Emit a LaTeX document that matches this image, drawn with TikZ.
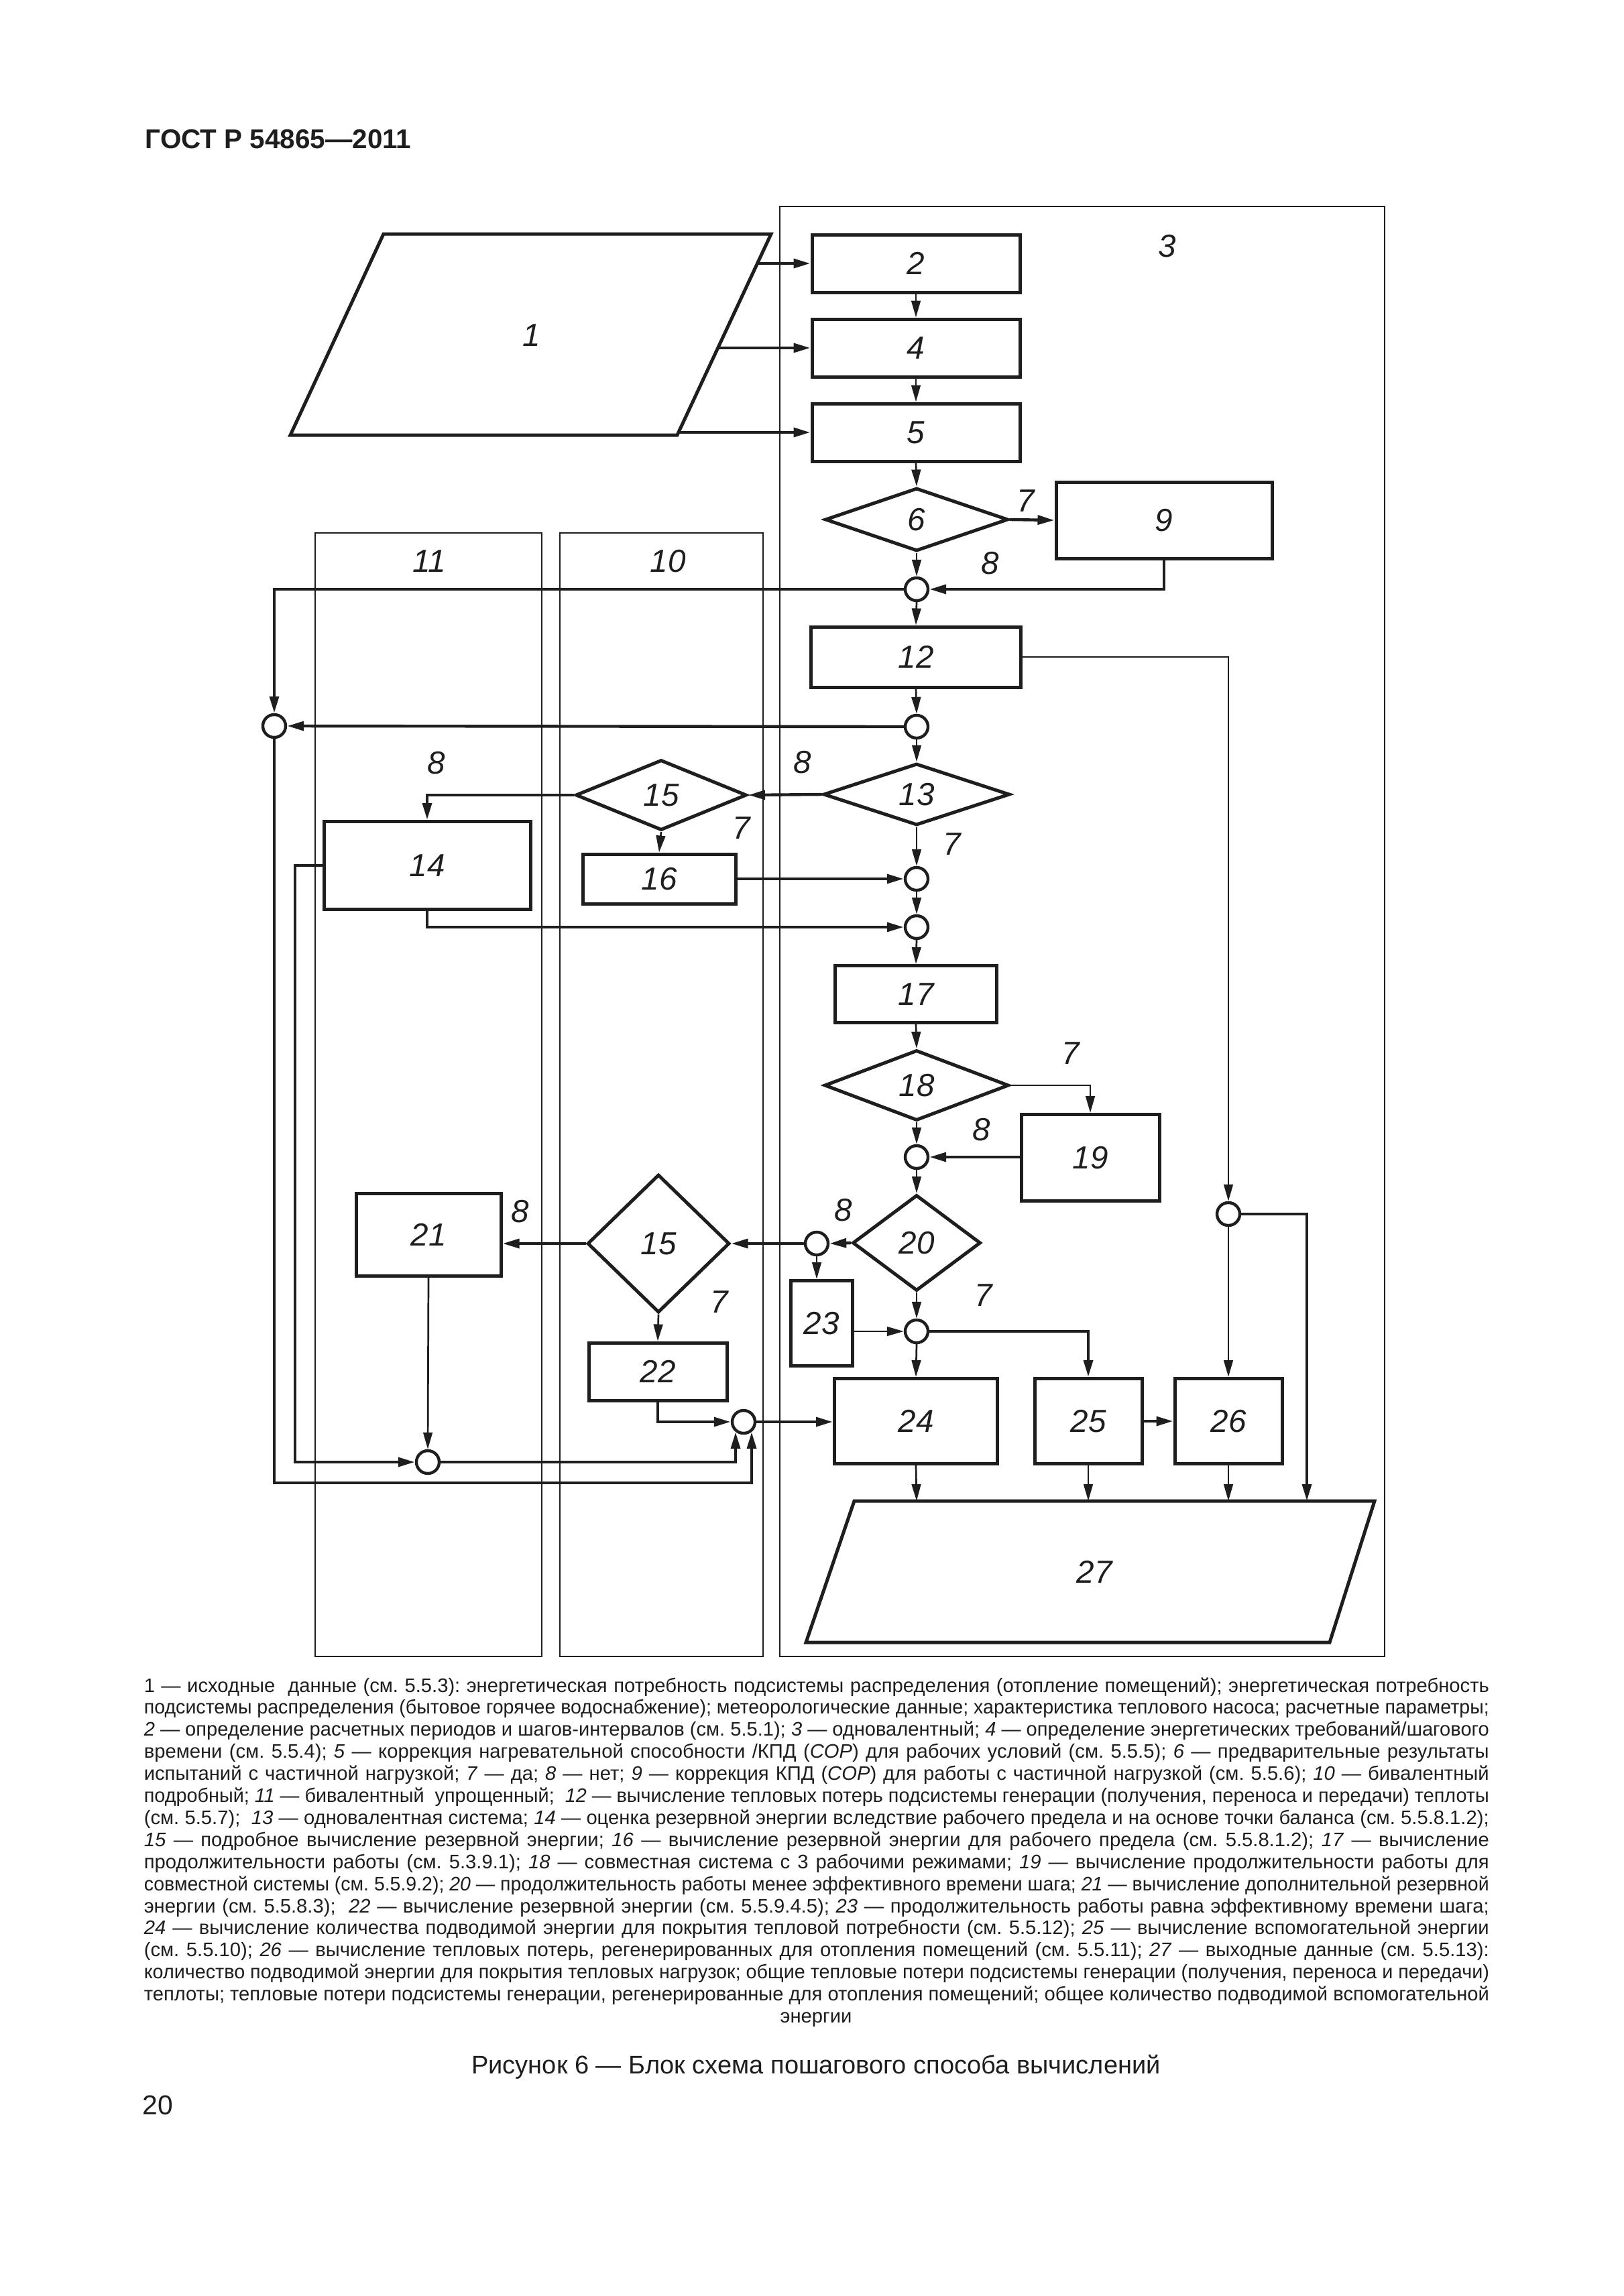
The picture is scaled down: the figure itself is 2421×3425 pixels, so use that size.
\documentclass[tikz,border=0pt]{standalone}
\usepackage{fontspec}
\setmainfont{Liberation Sans}
\usepackage{graphicx}
\usetikzlibrary{arrows.meta,shapes.geometric,calc}
\definecolor{ink}{RGB}{30,30,30}
\frenchspacing
\newsavebox\lnbox
\newcommand\jline[1]{\sbox\lnbox{#1}\ifdim\wd\lnbox>501.5pt\resizebox{501.5pt}{\height}{\usebox\lnbox}\else\makebox[501.5pt][s]{#1}\fi}
\newcommand\nt[1]{\textit{#1}}
\newcommand\notefont{\fontsize{7.3}{8}\selectfont\frenchspacing}
\tikzset{
 every node/.style={text=ink},
 lblfont/.style={font=\fontsize{11.9}{14}\selectfont\itshape},
 lbl/.style={lblfont, inner sep=0},
 bx/.style 2 args={draw=ink, line width=1.25pt, rectangle, minimum width=#1*0.25pt, minimum height=#2*0.25pt, inner sep=0, lblfont},
 dm/.style 2 args={draw=ink, line width=1.25pt, diamond, minimum width=#1*0.25pt, minimum height=#2*0.25pt, inner sep=0, lblfont},
 jn/.style={draw=ink, line width=1.1pt, circle, minimum size=8.5pt, inner sep=0},
 frame/.style={draw=ink, line width=0.7pt},
 ln/.style={draw=ink, line width=0.68pt},
 conn/.style={draw=ink, line width=0.68pt, -{Triangle[length=6.25pt,width=3.4pt]}},
 thk/.style={line width=1.1pt},
 note/.style={anchor=base west, inner sep=0, font=\notefont}
}
\begin{document}
\begin{tikzpicture}[x=0.25pt,y=-0.25pt]
\fill[white] (0,0) rectangle (2421,3425);
\useasboundingbox (0,0) rectangle (2421,3425);

% header
\node[anchor=base west, inner sep=0, font=\fontsize{10.1}{12}\selectfont\bfseries] (hdr) at (216,222) {ГОСТ Р 54865—2011};

% column frames
\draw[frame] (470,795) rectangle (808,2471);
\draw[frame] (835,795) rectangle (1138,2471);
\draw[frame] (1163,308) rectangle (2065,2471);
\node[lbl] (t11) at (640,837) {11};
\node[lbl] (t10) at (996,837) {10};
\node[lbl] (t3) at (1741,367) {3};

% parallelogram 1
\coordinate (p1tl) at (572,349);
\coordinate (p1tr) at (1150,349);
\coordinate (p1br) at (1010,649);
\coordinate (p1bl) at (433,649);
\draw[ink, line width=1.25pt, line join=miter] (p1tl) -- (p1tr) -- (p1br) -- (p1bl) -- cycle;
\node[lbl] (p1) at (793,500) {1};
\coordinate (e2) at (1130,393);
\coordinate (e4) at (1072,519);
\coordinate (e5) at (1013,645);

% parallelogram 27
\coordinate (q1) at (1274,2239);
\coordinate (q2) at (2050,2239);
\coordinate (q3) at (1983,2450);
\coordinate (q4) at (1202,2450);
\draw[ink, line width=1.25pt, line join=miter] (q1) -- (q2) -- (q3) -- (q4) -- cycle;
\node[lbl] (p27) at (1632,2345) {27};
\coordinate (t24) at (1367,2239);
\coordinate (t25) at (1623,2239);
\coordinate (t26) at (1832,2239);
\coordinate (t27) at (1949,2239);

% boxes
\node[bx={310}{86}] (b2) at (1366,393) {2};
\node[bx={310}{86}] (b4) at (1366,519) {4};
\node[bx={310}{86}] (b5) at (1366,645) {5};
\node[bx={322}{114}] (b9) at (1736,776) {9};
\node[bx={313}{90}] (b12) at (1366,980) {12};
\node[bx={308}{131}] (b14) at (637,1291) {14};
\node[bx={228}{74}] (b16) at (983,1311) {16};
\node[bx={241}{85}] (b17) at (1366,1483) {17};
\node[bx={206}{129}] (b19) at (1626,1727) {19};
\node[bx={216}{123}] (b21) at (639,1842) {21};
\node[bx={206}{86}] (b22) at (981,2046) {22};
\node[bx={92}{127}] (b23) at (1225,1974) {23};
\node[bx={243}{127}] (b24) at (1366,2120) {24};
\node[bx={160}{127}] (b25) at (1623,2120) {25};
\node[bx={160}{127}] (b26) at (1832,2120) {26};

% diamonds
\node[dm={273}{94}] (d6) at (1367,775) {6};
\node[dm={278}{92}] (d13) at (1367,1185) {13};
\node[dm={255}{105}] (d15a) at (986,1186) {15};
\node[dm={275}{105}] (d18) at (1367,1619) {18};
\node[dm={191}{143}] (d20) at (1367,1854) {20};
\node[dm={212}{206}] (d15b) at (982,1855) {15};

% junctions
\node[jn] (jA) at (1367,879) {};
\node[jn] (jL) at (409,1083) {};
\node[jn] (jB) at (1367,1084) {};
\node[jn] (jC) at (1832,1811) {};
\node[jn] (jD) at (1367,1311) {};
\node[jn] (jE) at (1367,1383) {};
\node[jn] (jG) at (1367,1726) {};
\node[jn] (jH) at (1218,1855) {};
\node[jn] (jK) at (1367,1986) {};
\node[jn] (jF) at (638,2181) {};
\node[jn] (jJ) at (1109,2121) {};
\coordinate (jJa) at (1097,2136);
\coordinate (jJb) at (1121,2136);

% connectors
\draw[conn,thk] (e2) -- (b2.west);
\draw[conn,thk] (e4) -- (b4.west);
\draw[conn,thk] (e5) -- (b5.west);
\draw[conn] (b2.south) -- (b4.north);
\draw[conn] (b4.south) -- (b5.north);
\draw[conn] (b5.south) -- (d6.north);
\draw[conn,thk] (d6.east) -- (b9.west);
\draw[conn] (d6.south) -- (jA.north);
\draw[conn,thk] (b9.south) -- (b9.south |- jA) -- (jA.east);
\draw[conn,thk] (jA.west) -- (jL |- jA) -- (jL.north);
\draw[conn] (jA.south) -- (b12.north);
\draw[conn] (b12.south) -- (jB.north);
\draw[conn,thk] (jB.west) -- (jL.east);
\draw[conn] (b12.east) -- (jC |- b12.east) -- (jC.north);
\draw[conn] (jB.south) -- (d13.north);
\draw[conn,thk] (d13.west) -- (d15a.east);
\draw[conn,thk] (d15a.west) -- (b14.north |- d15a.west) -- (b14.north);
\draw[conn] (d15a.south) -- (b16.north);
\draw[conn] (d13.south) -- (jD.north);
\draw[conn,thk] (b16.east) -- (jD.west);
\draw[conn] (jD.south) -- (jE.north);
\draw[conn,thk] (b14.south) -- (b14.south |- jE) -- (jE.west);
\draw[conn] (jE.south) -- (b17.north);
\draw[conn] (b17.south) -- (d18.north);
\draw[conn] (d18.east) -- (b19.north |- d18.east) -- (b19.north);
\draw[conn] (d18.south) -- (jG.north);
\draw[conn,thk] (b19.west |- jG) -- (jG.east);
\draw[conn] (jG.south) -- (d20.north);
\draw[conn,thk] (d20.west) -- (jH.east);
\draw[conn,thk] (jH.west) -- (d15b.east);
\draw[conn] (jH.south) -- (jH.south |- b23.north);
\draw[conn,thk] (d15b.west) -- (b21.east |- d15b.west);
\draw[conn] (d15b.south) -- (b22.north);
\draw[conn] (b21.south) -- (jF.north);
\draw[conn,thk] (b22.south) -- (b22.south |- jJ) -- (jJ.west);
\draw[conn,thk] (jJ.east) -- (b24.west |- jJ);
\draw[conn,thk] (b14.west) -- (440,1291) -- (440,2181) -- (jF.west);
\draw[conn,thk] (jF.east) -- (1097,2181) -- (jJa);
\draw[conn,thk] (jL.south) -- (409,2212) -- (1121,2212) -- (jJb);
\draw[conn] (d20.south) -- (jK.north);
\draw[conn] (b23.east |- jK) -- (jK.west);
\draw[conn] (jK.south) -- (b24.north);
\draw[conn,thk] (jK.east) -- (b25.north |- jK) -- (b25.north);
\draw[conn,thk] (b25.east) -- (b26.west);
\draw[conn] (jC.south) -- (b26.north);
\draw[conn,thk] (jC.east) -- (t27 |- jC) -- (t27);
\draw[conn] (b24.south) -- (t24);
\draw[conn] (b25.south) -- (t25);
\draw[conn] (b26.south) -- (t26);

% yes/no labels
\node[lbl] (y6) at (1530,747) {7};
\node[lbl] (n6) at (1477,840) {8};
\node[lbl] (n13) at (1197,1137) {8};
\node[lbl] (n15a) at (651,1138) {8};
\node[lbl] (y15a) at (1106,1235) {7};
\node[lbl] (y13) at (1420,1259) {7};
\node[lbl] (y18) at (1597,1571) {7};
\node[lbl] (n18) at (1464,1685) {8};
\node[lbl] (n20) at (1258,1805) {8};
\node[lbl] (n15b) at (776,1807) {8};
\node[lbl] (y15b) at (1073,1942) {7};
\node[lbl] (y20) at (1467,1932) {7};

% notes
\node[note] (l1) at (214,2524) {\jline{1 — исходные \ данные (см. 5.5.3): энергетическая потребность подсистемы распределения (отопление помещений); энергетическая потребность}};
\node[note] (l2) at (214,2556.9) {\jline{подсистемы распределения (бытовое горячее водоснабжение); метеорологические данные; характеристика теплового насоса; расчетные параметры;}};
\node[note] (l3) at (214,2589.8) {\jline{\nt{2} — определение расчетных периодов и шагов-интервалов (см. 5.5.1); \nt{3} — одновалентный; \nt{4} — определение энергетических требований/шагового}};
\node[note] (l4) at (214,2622.7) {\jline{времени (см. 5.5.4); \nt{5} — коррекция нагревательной способности /КПД (\nt{COP}) для рабочих условий (см. 5.5.5); \nt{6} — предварительные результаты}};
\node[note] (l5) at (214,2655.6) {\jline{испытаний с частичной нагрузкой; \nt{7} — да; \nt{8} — нет; \nt{9} — коррекция КПД (\nt{COP}) для работы с частичной нагрузкой (см. 5.5.6); \nt{10} — бивалентный}};
\node[note] (l6) at (214,2688.5) {\jline{подробный; \nt{11} — бивалентный \ упрощенный; \ \nt{12} — вычисление тепловых потерь подсистемы генерации (получения, переноса и передачи) теплоты}};
\node[note] (l7) at (214,2721.4) {\jline{(см. 5.5.7); \ \nt{13} — одновалентная система; \nt{14} — оценка резервной энергии вследствие рабочего предела и на основе точки баланса (см. 5.5.8.1.2);}};
\node[note] (l8) at (214,2754.3) {\jline{\nt{15} — подробное вычисление резервной энергии; \nt{16} — вычисление резервной энергии для рабочего предела (см. 5.5.8.1.2); \nt{17} — вычисление}};
\node[note] (l9) at (214,2787.2) {\jline{продолжительности работы (см. 5.3.9.1); \nt{18} — совместная система с 3 рабочими режимами; \nt{19} — вычисление продолжительности работы для}};
\node[note] (l10) at (214,2820.1) {\jline{совместной системы (см. 5.5.9.2); \nt{20} — продолжительность работы менее эффективного времени шага; \nt{21} — вычисление дополнительной резервной}};
\node[note] (l11) at (214,2853) {\jline{энергии (см. 5.5.8.3); \ \nt{22} — вычисление резервной энергии (см. 5.5.9.4.5); \nt{23} — продолжительность работы равна эффективному времени шага;}};
\node[note] (l12) at (214,2885.9) {\jline{\nt{24} — вычисление количества подводимой энергии для покрытия тепловой потребности (см. 5.5.12); \nt{25} — вычисление вспомогательной энергии}};
\node[note] (l13) at (214,2918.8) {\jline{(см. 5.5.10); \nt{26} — вычисление тепловых потерь, регенерированных для отопления помещений (см. 5.5.11); \nt{27} — выходные данные (см. 5.5.13):}};
\node[note] (l14) at (214,2951.7) {\jline{количество подводимой энергии для покрытия тепловых нагрузок; общие тепловые потери подсистемы генерации (получения, переноса и передачи)}};
\node[note] (l15) at (214,2984.6) {\jline{теплоты; тепловые потери подсистемы генерации, регенерированные для отопления помещений; общее количество подводимой вспомогательной}};
\node[anchor=base, inner sep=0, font=\notefont] (l16) at (1217,3017.5) {энергии};

% caption and page number
\node[anchor=base, inner sep=0, font=\fontsize{9.5}{12}\selectfont] (cap) at (1217,3093) {Рисунок 6 — Блок схема пошагового способа вычислений};
\node[anchor=base west, inner sep=0, font=\fontsize{10.2}{12}\selectfont] (pg) at (212,3154) {20};
\end{tikzpicture}
\end{document}
